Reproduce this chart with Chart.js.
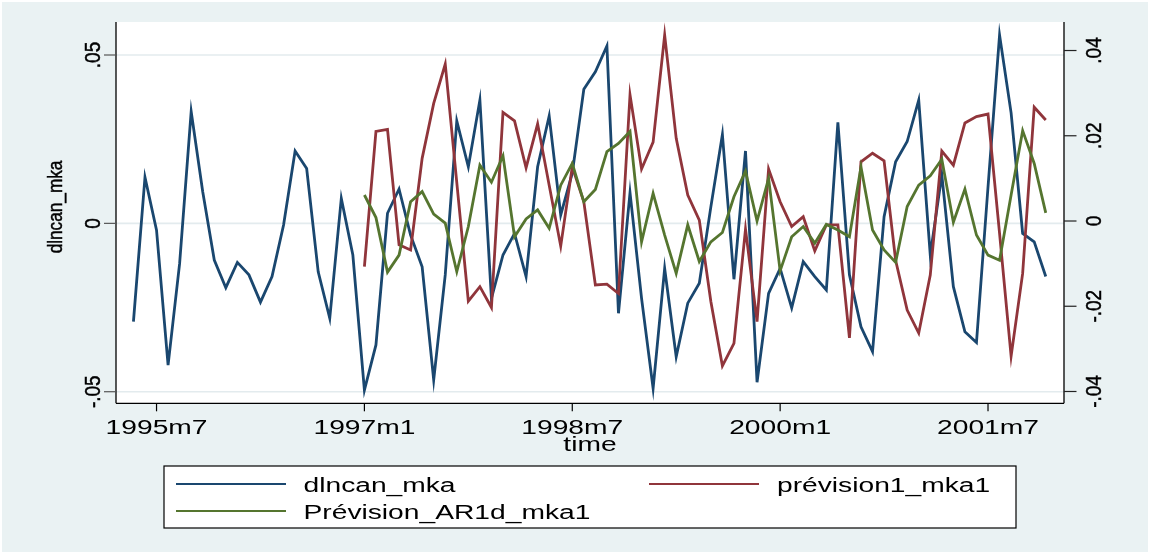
<!DOCTYPE html>
<html>
<head>
<meta charset="utf-8">
<script src="https://cdn.jsdelivr.net/npm/chart.js@4.4.1/dist/chart.umd.min.js"></script>
<style>
  html, body { margin: 0; padding: 0; background: #ffffff; }
  canvas { display: block; }
</style>
</head>
<body>
<canvas id="c" width="1150" height="554"></canvas>
<script>
// Monthly periods 1995m5 .. 2001m12
const months = [];
for (let y = 1995; y <= 2001; y++) {
  for (let m = 1; m <= 12; m++) {
    if (y === 1995 && m < 5) continue;
    months.push(y + 'm' + m);
  }
}
const forecastStart = '1997m1';

// Observed series (left axis)
const dlncan_mka = [
  -0.0292, 0.0137, -0.0020, -0.0421, -0.0119, 0.0332, 0.0094, -0.0109, -0.0191, -0.0116,
  -0.0153, -0.0234, -0.0158, -0.0005, 0.0215, 0.0163, -0.0144, -0.0282, 0.0074, -0.0094,
  -0.0495, -0.0361, 0.0030, 0.0102, -0.0035, -0.0129, -0.0465, -0.0153, 0.0304, 0.0168,
  0.0366, -0.0223, -0.0094, -0.0030, -0.0158, 0.0168, 0.0319, 0.0025, 0.0149, 0.0398,
  0.0450, 0.0527, -0.0267, 0.0091, -0.0223, -0.0490, -0.0134, -0.0396, -0.0237, -0.0178,
  0.0049, 0.0264, -0.0166, 0.0215, -0.0472, -0.0208, -0.0134, -0.0251, -0.0114, -0.0158,
  -0.0198, 0.0300, -0.0153, -0.0307, -0.0381, 0.0020, 0.0183, 0.0243, 0.0366, -0.0094,
  0.0144, -0.0188, -0.0322, -0.0354, 0.0108, 0.0559, 0.0328, -0.0030, -0.0055, -0.0158
];

// Forecasts from 1997m1 (right axis)
const prevision1_mka1 = [
  -0.0107, 0.0210, 0.0215, -0.0056, -0.0068, 0.0147, 0.0276, 0.0368, 0.0090, -0.0188,
  -0.0154, -0.0203, 0.0255, 0.0235, 0.0125, 0.0228, 0.0084, -0.0059, 0.0127, 0.0045,
  -0.0150, -0.0148, -0.0170, 0.0296, 0.0122, 0.0185, 0.0436, 0.0194, 0.0061, 0.0002,
  -0.0189, -0.0340, -0.0287, -0.0019, -0.0236, 0.0122, 0.0045, -0.0013, 0.0010, -0.0070,
  -0.0009, -0.0009, -0.0274, 0.0139, 0.0159, 0.0141, -0.0092, -0.0209, -0.0263, -0.0127,
  0.0164, 0.0131, 0.0230, 0.0245, 0.0251, -0.0029, -0.0317, -0.0123, 0.0267, 0.0237
];
const prevision_AR1d_mka1 = [
  0.0061, 0.0008, -0.0120, -0.0080, 0.0045, 0.0069, 0.0016, -0.0005, -0.0119, -0.0013,
  0.0131, 0.0091, 0.0153, -0.0037, 0.0005, 0.0026, -0.0017, 0.0084, 0.0135, 0.0045,
  0.0074, 0.0163, 0.0182, 0.0210, -0.0049, 0.0065, -0.0033, -0.0123, -0.0009, -0.0095,
  -0.0049, -0.0027, 0.0057, 0.0117, 0.0000, 0.0100, -0.0117, -0.0037, -0.0013, -0.0052,
  -0.0008, -0.0021, -0.0037, 0.0127, -0.0021, -0.0068, -0.0097, 0.0034, 0.0084, 0.0106,
  0.0145, -0.0003, 0.0075, -0.0033, -0.0080, -0.0092, 0.0061, 0.0212, 0.0135, 0.0019
];

// Axis ticks
const xTickLabels = ['1995m7', '1997m1', '1998m7', '2000m1', '2001m7'];
const yLeftTicks = [-0.05, 0, 0.05];
const yLeftTickLabels = ['-.05', '0', '.05'];
const yRightTicks = [-0.04, -0.02, 0, 0.02, 0.04];
const yRightTickLabels = ['-.04', '-.02', '0', '.02', '.04'];

const seriesNames = ['dlncan_mka', 'prévision1_mka1', 'Prévision_AR1d_mka1'];
const colors = ['#1a476f', '#90353b', '#55752f'];

function monthIndex(label) {
  const [y, m] = label.split('m').map(Number);
  return (y - 1995) * 12 + (m - 1);
}
function toPoints(labels, values) {
  return values.map((v, i) => ({ x: monthIndex(labels[i]), y: v }));
}
const forecastMonths = months.slice(months.indexOf(forecastStart));

const FONT = '"Liberation Sans", Arial, Helvetica, sans-serif';
const SX = 1.41; // horizontal text stretch

function hText(ctx, text, x, y, size, align) {
  ctx.save();
  ctx.font = size + 'px ' + FONT;
  ctx.fillStyle = '#000';
  ctx.textBaseline = 'alphabetic';
  ctx.textAlign = 'left';
  const w = ctx.measureText(text).width * SX;
  const left = align === 'center' ? x - w / 2 : x;
  ctx.translate(left, y);
  ctx.scale(SX, 1);
  ctx.fillText(text, 0, 0);
  ctx.restore();
}
// rotated text reading bottom to top, baseline on the right
function vText(ctx, text, baseX, cy, size, along, thick) {
  ctx.save();
  ctx.font = size + 'px ' + FONT;
  ctx.fillStyle = '#000';
  ctx.strokeStyle = '#000';
  ctx.lineWidth = 0.45;
  ctx.textBaseline = 'alphabetic';
  ctx.textAlign = 'center';
  ctx.translate(baseX, cy);
  ctx.rotate(-Math.PI / 2);
  ctx.scale(along, thick);
  ctx.fillText(text, 0, 0);
  ctx.strokeText(text, 0, 0);
  ctx.restore();
}

const stataFrame = {
  id: 'stataFrame',
  beforeDraw(chart) {
    const { ctx, chartArea: a, scales } = chart;
    ctx.save();
    ctx.fillStyle = '#ffffff';
    ctx.fillRect(0, 0, chart.width, chart.height);
    ctx.fillStyle = '#eaf2f3';
    ctx.fillRect(2, 2, chart.width - 4, chart.height - 4);
    ctx.fillStyle = '#ffffff';
    ctx.fillRect(a.left, a.top, a.right - a.left, a.bottom - a.top);
    // horizontal grid at left-axis ticks
    ctx.strokeStyle = '#e3ebee';
    ctx.lineWidth = 1.6;
    yLeftTicks.forEach(v => {
      const py = scales.y.getPixelForValue(v);
      ctx.beginPath();
      ctx.moveTo(a.left, py);
      ctx.lineTo(a.right, py);
      ctx.stroke();
    });
    ctx.restore();
  },
  afterDatasetsDraw(chart) {
    const { ctx, chartArea: a, scales } = chart;
    ctx.save();
    // axis lines
    ctx.strokeStyle = '#000';
    ctx.lineWidth = 1.3;
    ctx.beginPath();
    ctx.moveTo(a.left, a.top); ctx.lineTo(a.left, a.bottom);
    ctx.moveTo(a.left, a.bottom); ctx.lineTo(a.right, a.bottom);
    ctx.moveTo(a.right, a.top); ctx.lineTo(a.right, a.bottom);
    ctx.stroke();

    // x ticks + labels
    ctx.lineWidth = 1.2;
    xTickLabels.forEach(lab => {
      const px = scales.x.getPixelForValue(monthIndex(lab));
      ctx.beginPath();
      ctx.moveTo(px, a.bottom); ctx.lineTo(px, a.bottom + 8);
      ctx.stroke();
      hText(ctx, lab, px, a.bottom + 31, 20, 'center');
    });
    hText(ctx, 'time', (a.left + a.right) / 2, a.bottom + 47.5, 20, 'center');

    // left y ticks + labels
    ctx.strokeStyle = '#555';
    ctx.lineWidth = 1.2;
    yLeftTicks.forEach((v, i) => {
      const py = scales.y.getPixelForValue(v);
      ctx.beginPath();
      ctx.moveTo(a.left - 12, py); ctx.lineTo(a.left, py);
      ctx.stroke();
      vText(ctx, yLeftTickLabels[i], a.left - 16.5, py, 20, 0.95, 1.1);
    });
    vText(ctx, seriesNames[0], 61.5, 207, 20, 0.86, 1.05);

    // right y ticks + labels
    ctx.strokeStyle = '#222';
    ctx.lineWidth = 1.2;
    yRightTicks.forEach((v, i) => {
      const py = scales.y2.getPixelForValue(v);
      ctx.beginPath();
      ctx.moveTo(a.right, py); ctx.lineTo(a.right + 12.5, py);
      ctx.stroke();
      vText(ctx, yRightTickLabels[i], a.right + 36.5, py, 20, 0.95, 1.1);
    });

    // legend
    const L = { x0: 164, y0: 466, x1: 1016, y1: 528 };
    ctx.fillStyle = '#ffffff';
    ctx.fillRect(L.x0, L.y0, L.x1 - L.x0, L.y1 - L.y0);
    ctx.strokeStyle = '#000';
    ctx.lineWidth = 1.2;
    ctx.strokeRect(L.x0, L.y0, L.x1 - L.x0, L.y1 - L.y0);
    const entries = [
      { lx: 176, tx: 303.5, ly: 484, ty: 491.5 },
      { lx: 649, tx: 777, ly: 484, ty: 491.5 },
      { lx: 176, tx: 303.5, ly: 511, ty: 518.8 }
    ];
    entries.forEach((e, i) => {
      ctx.strokeStyle = colors[i];
      ctx.lineWidth = 2;
      ctx.beginPath();
      ctx.moveTo(e.lx, e.ly); ctx.lineTo(e.lx + 110, e.ly);
      ctx.stroke();
      hText(ctx, seriesNames[i], e.tx, e.ty, 20, 'left');
    });
    ctx.restore();
  }
};

new Chart(document.getElementById('c'), {
  type: 'line',
  data: {
    datasets: [
      { label: seriesNames[0], data: toPoints(months, dlncan_mka), yAxisID: 'y',
        borderColor: colors[0], order: 3 },
      { label: seriesNames[1], data: toPoints(forecastMonths, prevision1_mka1), yAxisID: 'y2',
        borderColor: colors[1], order: 2 },
      { label: seriesNames[2], data: toPoints(forecastMonths, prevision_AR1d_mka1), yAxisID: 'y2',
        borderColor: colors[2], order: 1 }
    ]
  },
  options: {
    responsive: false,
    devicePixelRatio: 1,
    animation: false,
    events: [],
    layout: { padding: { left: 116, right: 86, top: 22, bottom: 150.7 } },
    elements: {
      line: { borderWidth: 2.8, tension: 0, borderJoinStyle: 'miter', fill: false },
      point: { radius: 0 }
    },
    plugins: { legend: { display: false }, tooltip: { enabled: false } },
    scales: {
      x: { type: 'linear', min: 2.49, max: 84.58, display: false },
      y: { type: 'linear', position: 'left', min: -0.05344, max: 0.0598, display: false },
      y2: { type: 'linear', position: 'right', min: -0.04277, max: 0.04669, display: false }
    }
  },
  plugins: [stataFrame]
});
</script>
</body>
</html>
